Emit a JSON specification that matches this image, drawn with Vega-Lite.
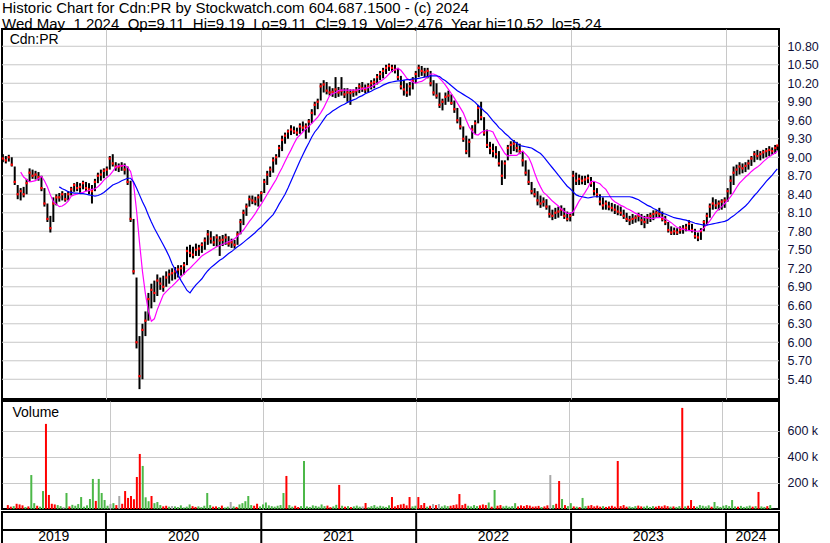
{
"$schema": "https://vega.github.io/schema/vega-lite/v6.json",
"background": "white",
"padding": {"left": 0, "top": 1, "right": 0, "bottom": 0},
"spacing": 0,
"title": {"text": ["Historic Chart for Cdn:PR by Stockwatch.com 604.687.1500 - (c) 2024", "Wed May\u00a0\u00a01 2024\u00a0\u00a0Op=9.11\u00a0\u00a0Hi=9.19\u00a0\u00a0Lo=9.11\u00a0\u00a0Cl=9.19\u00a0\u00a0Vol=2,476\u00a0\u00a0Year hi=10.52\u00a0\u00a0lo=5.24"], "anchor": "start", "font": "Liberation Sans", "fontSize": 15, "fontWeight": "normal", "color": "black", "lineHeight": 16, "offset": -4, "frame": "group"},
"config": {
  "view": {"stroke": "black", "strokeWidth": 2},
  "axis": {"labelFont": "Liberation Sans", "labelFontSize": 13, "labelColor": "#10103a", "gridColor": "#c8c8c8", "gridWidth": 1, "ticks": false, "domain": false, "labelOverlap": false}
},
"datasets": {
"p": [
{"d":"2019-05-03","h":9.05,"l":8.92,"c":8.98,"v":30000,"s":"d"},
{"d":"2019-05-10","h":9.02,"l":8.90,"c":8.95,"v":18000,"s":"d"},
{"d":"2019-05-17","h":9.04,"l":8.93,"c":9.00,"v":22000,"s":"u"},
{"d":"2019-05-24","h":9.00,"l":8.85,"c":8.88,"v":40000,"s":"d"},
{"d":"2019-05-31","h":8.85,"l":8.55,"c":8.60,"v":35000,"s":"d"},
{"d":"2019-06-07","h":8.55,"l":8.32,"c":8.40,"v":28000,"s":"d"},
{"d":"2019-06-14","h":8.50,"l":8.30,"c":8.45,"v":15000,"s":"u","m1":8.76},
{"d":"2019-06-21","h":8.52,"l":8.35,"c":8.40,"v":20000,"s":"d","m1":8.68},
{"d":"2019-06-28","h":8.65,"l":8.40,"c":8.58,"v":261000,"s":"u","m1":8.64},
{"d":"2019-07-05","h":8.82,"l":8.60,"c":8.75,"v":45000,"s":"u","m1":8.60},
{"d":"2019-07-12","h":8.80,"l":8.65,"c":8.70,"v":25000,"s":"d","m1":8.61},
{"d":"2019-07-19","h":8.78,"l":8.64,"c":8.72,"v":18000,"s":"u","m1":8.62},
{"d":"2019-07-26","h":8.76,"l":8.62,"c":8.68,"v":138000,"s":"u","m1":8.65},
{"d":"2019-08-02","h":8.70,"l":8.45,"c":8.50,"v":654000,"s":"d","m1":8.69},
{"d":"2019-08-09","h":8.50,"l":8.20,"c":8.25,"v":108000,"s":"d","m1":8.62},
{"d":"2019-08-16","h":8.25,"l":7.95,"c":8.00,"v":40000,"s":"d","m1":8.52},
{"d":"2019-08-23","h":8.05,"l":7.78,"c":7.85,"v":35000,"s":"d","m1":8.39},
{"d":"2019-08-30","h":8.35,"l":7.95,"c":8.25,"v":30000,"s":"u","m1":8.28},
{"d":"2019-09-06","h":8.40,"l":8.22,"c":8.35,"v":22000,"s":"u","m1":8.24},
{"d":"2019-09-13","h":8.42,"l":8.28,"c":8.35,"v":15000,"s":"n","m1":8.20,"m2":8.52},
{"d":"2019-09-20","h":8.45,"l":8.30,"c":8.40,"v":123000,"s":"u","m1":8.21,"m2":8.49},
{"d":"2019-09-27","h":8.42,"l":8.28,"c":8.32,"v":20000,"s":"d","m1":8.24,"m2":8.47},
{"d":"2019-10-04","h":8.45,"l":8.30,"c":8.40,"v":32000,"s":"u","m1":8.29,"m2":8.44},
{"d":"2019-10-11","h":8.52,"l":8.38,"c":8.48,"v":25000,"s":"u","m1":8.37,"m2":8.43},
{"d":"2019-10-18","h":8.58,"l":8.44,"c":8.55,"v":38000,"s":"u","m1":8.39,"m2":8.42},
{"d":"2019-10-25","h":8.60,"l":8.45,"c":8.50,"v":92000,"s":"u","m1":8.40,"m2":8.42},
{"d":"2019-11-01","h":8.58,"l":8.42,"c":8.52,"v":18000,"s":"u","m1":8.42,"m2":8.41},
{"d":"2019-11-08","h":8.62,"l":8.48,"c":8.58,"v":28000,"s":"u","m1":8.43,"m2":8.41},
{"d":"2019-11-15","h":8.60,"l":8.45,"c":8.50,"v":77000,"s":"u","m1":8.45,"m2":8.40},
{"d":"2019-11-22","h":8.58,"l":8.40,"c":8.48,"v":231000,"s":"u","m1":8.46,"m2":8.39},
{"d":"2019-11-29","h":8.55,"l":8.25,"c":8.45,"v":62000,"s":"d","m1":8.48,"m2":8.38},
{"d":"2019-12-06","h":8.65,"l":8.45,"c":8.60,"v":231000,"s":"u","m1":8.49,"m2":8.37},
{"d":"2019-12-13","h":8.75,"l":8.58,"c":8.70,"v":123000,"s":"u","m1":8.52,"m2":8.38},
{"d":"2019-12-20","h":8.80,"l":8.62,"c":8.72,"v":69000,"s":"u","m1":8.57,"m2":8.40},
{"d":"2019-12-27","h":8.82,"l":8.66,"c":8.78,"v":25000,"s":"u","m1":8.63,"m2":8.43},
{"d":"2020-01-03","h":8.85,"l":8.70,"c":8.80,"v":38000,"s":"n","m1":8.67,"m2":8.47},
{"d":"2020-01-10","h":9.02,"l":8.80,"c":8.98,"v":45000,"s":"u","m1":8.71,"m2":8.51},
{"d":"2020-01-17","h":9.05,"l":8.85,"c":8.90,"v":30000,"s":"d","m1":8.77,"m2":8.55},
{"d":"2020-01-24","h":8.92,"l":8.78,"c":8.85,"v":100000,"s":"n","m1":8.84,"m2":8.57},
{"d":"2020-01-31","h":8.90,"l":8.76,"c":8.84,"v":40000,"s":"d","m1":8.86,"m2":8.59},
{"d":"2020-02-07","h":8.92,"l":8.78,"c":8.86,"v":138000,"s":"d","m1":8.86,"m2":8.62},
{"d":"2020-02-14","h":8.90,"l":8.72,"c":8.80,"v":85000,"s":"d","m1":8.87,"m2":8.64},
{"d":"2020-02-21","h":8.85,"l":8.55,"c":8.60,"v":100000,"s":"d","m1":8.84,"m2":8.66},
{"d":"2020-02-28","h":8.62,"l":7.95,"c":8.00,"v":75000,"s":"d","m1":8.77,"m2":8.66},
{"d":"2020-03-06","h":8.00,"l":7.10,"c":7.15,"v":246000,"s":"d","m1":8.57,"m2":8.60},
{"d":"2020-03-13","h":7.05,"l":5.90,"c":6.00,"v":423000,"s":"d","m1":8.14,"m2":8.50},
{"d":"2020-03-20","h":6.10,"l":5.24,"c":5.45,"v":331000,"s":"u","m1":7.62,"m2":8.39},
{"d":"2020-03-27","h":6.30,"l":5.40,"c":6.20,"v":90000,"s":"u","m1":7.15,"m2":8.28},
{"d":"2020-04-03","h":6.50,"l":6.10,"c":6.35,"v":60000,"s":"u","m1":6.78,"m2":8.18},
{"d":"2020-04-10","h":6.80,"l":6.35,"c":6.70,"v":100000,"s":"d","m1":6.51,"m2":8.06},
{"d":"2020-04-17","h":6.95,"l":6.55,"c":6.85,"v":45000,"s":"u","m1":6.34,"m2":7.95},
{"d":"2020-04-24","h":7.00,"l":6.65,"c":6.80,"v":54000,"s":"u","m1":6.38,"m2":7.85},
{"d":"2020-05-01","h":7.10,"l":6.75,"c":7.00,"v":30000,"s":"u","m1":6.53,"m2":7.76},
{"d":"2020-05-08","h":7.05,"l":6.85,"c":6.95,"v":20000,"s":"d","m1":6.65,"m2":7.67},
{"d":"2020-05-15","h":7.08,"l":6.82,"c":6.90,"v":25000,"s":"d","m1":6.77,"m2":7.58},
{"d":"2020-05-22","h":7.15,"l":6.90,"c":7.05,"v":18000,"s":"u","m1":6.82,"m2":7.49},
{"d":"2020-05-29","h":7.18,"l":6.95,"c":7.10,"v":23000,"s":"n","m1":6.87,"m2":7.39},
{"d":"2020-06-05","h":7.20,"l":7.00,"c":7.12,"v":20000,"s":"u","m1":6.91,"m2":7.27},
{"d":"2020-06-12","h":7.22,"l":7.02,"c":7.15,"v":15000,"s":"u","m1":6.96,"m2":7.18},
{"d":"2020-06-19","h":7.25,"l":7.05,"c":7.18,"v":28000,"s":"u","m1":7.01,"m2":7.09},
{"d":"2020-06-26","h":7.25,"l":7.08,"c":7.20,"v":12000,"s":"u","m1":7.06,"m2":7.00},
{"d":"2020-07-03","h":7.30,"l":7.10,"c":7.25,"v":18000,"s":"u","m1":7.11,"m2":6.92},
{"d":"2020-07-10","h":7.55,"l":7.25,"c":7.48,"v":35000,"s":"u","m1":7.16,"m2":6.84},
{"d":"2020-07-17","h":7.58,"l":7.38,"c":7.45,"v":22000,"s":"d","m1":7.20,"m2":6.80},
{"d":"2020-07-24","h":7.55,"l":7.36,"c":7.42,"v":16000,"s":"d","m1":7.25,"m2":6.87},
{"d":"2020-07-31","h":7.60,"l":7.40,"c":7.50,"v":20000,"s":"u","m1":7.30,"m2":6.93},
{"d":"2020-08-07","h":7.58,"l":7.40,"c":7.52,"v":14000,"s":"u","m1":7.35,"m2":6.98},
{"d":"2020-08-14","h":7.62,"l":7.45,"c":7.58,"v":25000,"s":"u","m1":7.40,"m2":7.03},
{"d":"2020-08-21","h":7.70,"l":7.50,"c":7.65,"v":123000,"s":"u","m1":7.43,"m2":7.10},
{"d":"2020-08-28","h":7.82,"l":7.58,"c":7.75,"v":30000,"s":"u","m1":7.46,"m2":7.16},
{"d":"2020-09-04","h":7.80,"l":7.60,"c":7.68,"v":18000,"s":"d","m1":7.49,"m2":7.21},
{"d":"2020-09-11","h":7.72,"l":7.56,"c":7.62,"v":20000,"s":"d","m1":7.52,"m2":7.25},
{"d":"2020-09-18","h":7.75,"l":7.55,"c":7.70,"v":15000,"s":"u","m1":7.55,"m2":7.29},
{"d":"2020-09-25","h":7.72,"l":7.40,"c":7.65,"v":26000,"s":"d","m1":7.57,"m2":7.33},
{"d":"2020-10-02","h":7.74,"l":7.56,"c":7.66,"v":12000,"s":"u","m1":7.59,"m2":7.36},
{"d":"2020-10-09","h":7.76,"l":7.58,"c":7.70,"v":18000,"s":"u","m1":7.61,"m2":7.40},
{"d":"2020-10-16","h":7.72,"l":7.55,"c":7.60,"v":54000,"s":"n","m1":7.63,"m2":7.44},
{"d":"2020-10-23","h":7.68,"l":7.53,"c":7.62,"v":20000,"s":"u","m1":7.65,"m2":7.47},
{"d":"2020-10-30","h":7.66,"l":7.52,"c":7.58,"v":16000,"s":"d","m1":7.68,"m2":7.51},
{"d":"2020-11-06","h":7.80,"l":7.58,"c":7.75,"v":35000,"s":"u","m1":7.72,"m2":7.55},
{"d":"2020-11-13","h":8.00,"l":7.75,"c":7.95,"v":45000,"s":"u","m1":7.77,"m2":7.58},
{"d":"2020-11-20","h":8.15,"l":7.90,"c":8.10,"v":60000,"s":"u","m1":7.82,"m2":7.62},
{"d":"2020-11-27","h":8.25,"l":8.05,"c":8.20,"v":100000,"s":"u","m1":7.89,"m2":7.66},
{"d":"2020-12-04","h":8.38,"l":8.20,"c":8.32,"v":30000,"s":"u","m1":7.96,"m2":7.70},
{"d":"2020-12-11","h":8.38,"l":8.24,"c":8.30,"v":25000,"s":"d","m1":8.02,"m2":7.74},
{"d":"2020-12-18","h":8.36,"l":8.22,"c":8.28,"v":40000,"s":"d","m1":8.09,"m2":7.78},
{"d":"2020-12-25","h":8.40,"l":8.20,"c":8.35,"v":20000,"s":"u","m1":8.17,"m2":7.83},
{"d":"2021-01-01","h":8.45,"l":8.28,"c":8.42,"v":35000,"s":"u","m1":8.24,"m2":7.87},
{"d":"2021-01-08","h":8.65,"l":8.42,"c":8.60,"v":50000,"s":"u","m1":8.32,"m2":7.92},
{"d":"2021-01-15","h":8.78,"l":8.55,"c":8.72,"v":28000,"s":"u","m1":8.40,"m2":7.97},
{"d":"2021-01-22","h":8.85,"l":8.68,"c":8.80,"v":22000,"s":"u","m1":8.48,"m2":8.02},
{"d":"2021-01-29","h":9.00,"l":8.75,"c":8.95,"v":18000,"s":"u","m1":8.56,"m2":8.07},
{"d":"2021-02-05","h":9.05,"l":8.88,"c":9.00,"v":25000,"s":"u","m1":8.64,"m2":8.15},
{"d":"2021-02-12","h":9.20,"l":9.00,"c":9.15,"v":30000,"s":"u","m1":8.74,"m2":8.24},
{"d":"2021-02-19","h":9.35,"l":9.10,"c":9.28,"v":123000,"s":"u","m1":8.83,"m2":8.32},
{"d":"2021-02-26","h":9.40,"l":9.22,"c":9.35,"v":254000,"s":"d","m1":8.93,"m2":8.40},
{"d":"2021-03-05","h":9.45,"l":9.30,"c":9.42,"v":30000,"s":"u","m1":9.03,"m2":8.50},
{"d":"2021-03-12","h":9.52,"l":9.36,"c":9.45,"v":18000,"s":"u","m1":9.12,"m2":8.61},
{"d":"2021-03-19","h":9.50,"l":9.38,"c":9.42,"v":25000,"s":"d","m1":9.22,"m2":8.72},
{"d":"2021-03-26","h":9.48,"l":9.35,"c":9.40,"v":15000,"s":"d","m1":9.31,"m2":8.83},
{"d":"2021-04-02","h":9.55,"l":9.38,"c":9.50,"v":22000,"s":"u","m1":9.36,"m2":8.94},
{"d":"2021-04-09","h":9.58,"l":9.42,"c":9.48,"v":369000,"s":"u","m1":9.41,"m2":9.04},
{"d":"2021-04-16","h":9.55,"l":9.30,"c":9.50,"v":20000,"s":"u","m1":9.46,"m2":9.14},
{"d":"2021-04-23","h":9.62,"l":9.40,"c":9.58,"v":16000,"s":"u","m1":9.50,"m2":9.23},
{"d":"2021-04-30","h":9.78,"l":9.55,"c":9.72,"v":28000,"s":"u","m1":9.55,"m2":9.33},
{"d":"2021-05-07","h":9.90,"l":9.68,"c":9.85,"v":24000,"s":"u","m1":9.60,"m2":9.41},
{"d":"2021-05-14","h":9.95,"l":9.78,"c":9.90,"v":18000,"s":"u","m1":9.65,"m2":9.47},
{"d":"2021-05-21","h":10.20,"l":9.92,"c":10.15,"v":35000,"s":"u","m1":9.72,"m2":9.54},
{"d":"2021-05-28","h":10.25,"l":10.05,"c":10.18,"v":22000,"s":"u","m1":9.80,"m2":9.61},
{"d":"2021-06-04","h":10.22,"l":10.02,"c":10.08,"v":26000,"s":"d","m1":9.90,"m2":9.68},
{"d":"2021-06-11","h":10.15,"l":10.00,"c":10.05,"v":14000,"s":"d","m1":10.00,"m2":9.71},
{"d":"2021-06-18","h":10.12,"l":9.98,"c":10.06,"v":20000,"s":"u","m1":10.03,"m2":9.75},
{"d":"2021-06-25","h":10.30,"l":9.96,"c":10.10,"v":32000,"s":"u","m1":10.05,"m2":9.78},
{"d":"2021-07-02","h":10.14,"l":9.98,"c":10.05,"v":185000,"s":"d","m1":10.08,"m2":9.81},
{"d":"2021-07-09","h":10.30,"l":10.00,"c":10.08,"v":25000,"s":"u","m1":10.09,"m2":9.84},
{"d":"2021-07-16","h":10.12,"l":9.96,"c":10.02,"v":18000,"s":"d","m1":10.09,"m2":9.86},
{"d":"2021-07-23","h":10.12,"l":9.90,"c":10.05,"v":22000,"s":"u","m1":10.09,"m2":9.89},
{"d":"2021-07-30","h":10.10,"l":9.85,"c":10.04,"v":15000,"s":"d","m1":10.09,"m2":9.91},
{"d":"2021-08-06","h":10.10,"l":9.98,"c":10.06,"v":20000,"s":"u","m1":10.09,"m2":9.93},
{"d":"2021-08-13","h":10.14,"l":10.00,"c":10.08,"v":26000,"s":"u","m1":10.09,"m2":9.95},
{"d":"2021-08-20","h":10.20,"l":10.04,"c":10.15,"v":18000,"s":"u","m1":10.10,"m2":9.98},
{"d":"2021-08-27","h":10.22,"l":10.06,"c":10.12,"v":20000,"s":"n","m1":10.11,"m2":10.00},
{"d":"2021-09-03","h":10.18,"l":10.04,"c":10.10,"v":46000,"s":"d","m1":10.12,"m2":10.03},
{"d":"2021-09-10","h":10.20,"l":10.05,"c":10.15,"v":14000,"s":"u","m1":10.13,"m2":10.05},
{"d":"2021-09-17","h":10.25,"l":10.10,"c":10.20,"v":22000,"s":"u","m1":10.14,"m2":10.07},
{"d":"2021-09-24","h":10.28,"l":10.12,"c":10.22,"v":30000,"s":"u","m1":10.17,"m2":10.10},
{"d":"2021-10-01","h":10.35,"l":10.18,"c":10.30,"v":18000,"s":"u","m1":10.20,"m2":10.12},
{"d":"2021-10-08","h":10.40,"l":10.25,"c":10.35,"v":25000,"s":"u","m1":10.23,"m2":10.14},
{"d":"2021-10-15","h":10.45,"l":10.28,"c":10.40,"v":20000,"s":"u","m1":10.26,"m2":10.17},
{"d":"2021-10-22","h":10.50,"l":10.35,"c":10.45,"v":16000,"s":"u","m1":10.30,"m2":10.19},
{"d":"2021-10-29","h":10.52,"l":10.40,"c":10.48,"v":28000,"s":"u","m1":10.35,"m2":10.21},
{"d":"2021-11-05","h":10.50,"l":10.38,"c":10.45,"v":92000,"s":"d","m1":10.40,"m2":10.22},
{"d":"2021-11-12","h":10.50,"l":10.36,"c":10.42,"v":20000,"s":"d","m1":10.42,"m2":10.23},
{"d":"2021-11-19","h":10.45,"l":10.25,"c":10.30,"v":30000,"s":"d","m1":10.44,"m2":10.24},
{"d":"2021-11-26","h":10.32,"l":10.10,"c":10.15,"v":35000,"s":"d","m1":10.41,"m2":10.24},
{"d":"2021-12-03","h":10.25,"l":10.00,"c":10.10,"v":40000,"s":"d","m1":10.35,"m2":10.25},
{"d":"2021-12-10","h":10.20,"l":9.98,"c":10.05,"v":28000,"s":"d","m1":10.28,"m2":10.26},
{"d":"2021-12-17","h":10.22,"l":10.00,"c":10.15,"v":92000,"s":"d","m1":10.25,"m2":10.26},
{"d":"2021-12-24","h":10.30,"l":10.10,"c":10.25,"v":20000,"s":"u","m1":10.22,"m2":10.27},
{"d":"2021-12-31","h":10.40,"l":10.20,"c":10.35,"v":25000,"s":"u","m1":10.20,"m2":10.27},
{"d":"2022-01-07","h":10.50,"l":10.30,"c":10.45,"v":92000,"s":"d","m1":10.22,"m2":10.28},
{"d":"2022-01-14","h":10.48,"l":10.32,"c":10.40,"v":30000,"s":"d","m1":10.23,"m2":10.29},
{"d":"2022-01-21","h":10.45,"l":10.30,"c":10.38,"v":46000,"s":"d","m1":10.26,"m2":10.30},
{"d":"2022-01-28","h":10.45,"l":10.28,"c":10.40,"v":18000,"s":"u","m1":10.30,"m2":10.31},
{"d":"2022-02-04","h":10.40,"l":10.15,"c":10.20,"v":25000,"s":"d","m1":10.35,"m2":10.32},
{"d":"2022-02-11","h":10.25,"l":10.00,"c":10.05,"v":38000,"s":"n","m1":10.35,"m2":10.32},
{"d":"2022-02-18","h":10.20,"l":9.95,"c":10.00,"v":30000,"s":"d","m1":10.33,"m2":10.32},
{"d":"2022-02-25","h":10.05,"l":9.80,"c":9.85,"v":38000,"s":"n","m1":10.28,"m2":10.31},
{"d":"2022-03-04","h":9.95,"l":9.76,"c":9.90,"v":20000,"s":"u","m1":10.23,"m2":10.27},
{"d":"2022-03-11","h":10.05,"l":9.85,"c":9.98,"v":28000,"s":"u","m1":10.17,"m2":10.24},
{"d":"2022-03-18","h":10.08,"l":9.90,"c":10.00,"v":22000,"s":"u","m1":10.10,"m2":10.20},
{"d":"2022-03-25","h":10.02,"l":9.85,"c":9.88,"v":25000,"s":"d","m1":10.03,"m2":10.16},
{"d":"2022-04-01","h":9.92,"l":9.72,"c":9.78,"v":30000,"s":"d","m1":9.96,"m2":10.12},
{"d":"2022-04-08","h":9.80,"l":9.55,"c":9.60,"v":35000,"s":"d","m1":9.88,"m2":10.08},
{"d":"2022-04-15","h":9.65,"l":9.45,"c":9.50,"v":115000,"s":"d","m1":9.80,"m2":10.05},
{"d":"2022-04-22","h":9.50,"l":9.25,"c":9.30,"v":30000,"s":"d","m1":9.72,"m2":10.02},
{"d":"2022-04-29","h":9.35,"l":9.05,"c":9.10,"v":40000,"s":"d","m1":9.60,"m2":9.99},
{"d":"2022-05-06","h":9.30,"l":9.00,"c":9.25,"v":25000,"s":"u","m1":9.49,"m2":9.96},
{"d":"2022-05-13","h":9.52,"l":9.30,"c":9.45,"v":20000,"s":"u","m1":9.42,"m2":9.93},
{"d":"2022-05-20","h":9.60,"l":9.38,"c":9.55,"v":30000,"s":"u","m1":9.37,"m2":9.89},
{"d":"2022-05-27","h":9.85,"l":9.55,"c":9.80,"v":22000,"s":"u","m1":9.36,"m2":9.84},
{"d":"2022-06-03","h":9.90,"l":9.60,"c":9.65,"v":28000,"s":"d","m1":9.40,"m2":9.80},
{"d":"2022-06-10","h":9.65,"l":9.35,"c":9.40,"v":35000,"s":"d","m1":9.43,"m2":9.75},
{"d":"2022-06-17","h":9.45,"l":9.15,"c":9.20,"v":30000,"s":"d","m1":9.43,"m2":9.71},
{"d":"2022-06-24","h":9.25,"l":9.05,"c":9.15,"v":50000,"s":"u","m1":9.43,"m2":9.65},
{"d":"2022-07-01","h":9.22,"l":9.00,"c":9.10,"v":18000,"s":"d","m1":9.41,"m2":9.59},
{"d":"2022-07-08","h":9.18,"l":8.98,"c":9.05,"v":146000,"s":"u","m1":9.31,"m2":9.54},
{"d":"2022-07-15","h":9.10,"l":8.85,"c":8.90,"v":25000,"s":"d","m1":9.22,"m2":9.48},
{"d":"2022-07-22","h":8.95,"l":8.55,"c":8.70,"v":30000,"s":"d","m1":9.14,"m2":9.44},
{"d":"2022-07-29","h":8.95,"l":8.65,"c":8.90,"v":20000,"s":"u","m1":9.06,"m2":9.39},
{"d":"2022-08-05","h":9.20,"l":8.95,"c":9.15,"v":25000,"s":"u","m1":9.02,"m2":9.35},
{"d":"2022-08-12","h":9.26,"l":9.05,"c":9.20,"v":18000,"s":"u","m1":9.03,"m2":9.30},
{"d":"2022-08-19","h":9.28,"l":9.10,"c":9.22,"v":22000,"s":"u","m1":9.03,"m2":9.26},
{"d":"2022-08-26","h":9.25,"l":9.08,"c":9.15,"v":45000,"s":"u","m1":9.03,"m2":9.23},
{"d":"2022-09-02","h":9.22,"l":9.05,"c":9.10,"v":20000,"s":"d","m1":9.07,"m2":9.19},
{"d":"2022-09-09","h":9.10,"l":8.85,"c":8.95,"v":28000,"s":"d","m1":9.10,"m2":9.18},
{"d":"2022-09-16","h":8.95,"l":8.70,"c":8.75,"v":22000,"s":"d","m1":9.05,"m2":9.17},
{"d":"2022-09-23","h":8.80,"l":8.55,"c":8.60,"v":30000,"s":"d","m1":9.00,"m2":9.16},
{"d":"2022-09-30","h":8.60,"l":8.40,"c":8.45,"v":26000,"s":"d","m1":8.89,"m2":9.15},
{"d":"2022-10-07","h":8.50,"l":8.35,"c":8.40,"v":18000,"s":"d","m1":8.75,"m2":9.12},
{"d":"2022-10-14","h":8.45,"l":8.22,"c":8.30,"v":20000,"s":"d","m1":8.62,"m2":9.09},
{"d":"2022-10-21","h":8.38,"l":8.18,"c":8.25,"v":24000,"s":"d","m1":8.52,"m2":9.06},
{"d":"2022-10-28","h":8.35,"l":8.20,"c":8.28,"v":15000,"s":"u","m1":8.43,"m2":9.01},
{"d":"2022-11-04","h":8.32,"l":8.15,"c":8.20,"v":20000,"s":"d","m1":8.39,"m2":8.95},
{"d":"2022-11-11","h":8.22,"l":8.02,"c":8.08,"v":28000,"s":"d","m1":8.34,"m2":8.89},
{"d":"2022-11-18","h":8.15,"l":7.98,"c":8.05,"v":261000,"s":"n","m1":8.29,"m2":8.83},
{"d":"2022-11-25","h":8.18,"l":8.00,"c":8.10,"v":30000,"s":"u","m1":8.25,"m2":8.77},
{"d":"2022-12-02","h":8.20,"l":8.02,"c":8.12,"v":40000,"s":"d","m1":8.21,"m2":8.71},
{"d":"2022-12-09","h":8.22,"l":8.05,"c":8.15,"v":215000,"s":"d","m1":8.16,"m2":8.65},
{"d":"2022-12-16","h":8.18,"l":8.00,"c":8.05,"v":77000,"s":"u","m1":8.12,"m2":8.59},
{"d":"2022-12-23","h":8.12,"l":7.96,"c":8.00,"v":30000,"s":"d","m1":8.09,"m2":8.53},
{"d":"2022-12-30","h":8.10,"l":7.96,"c":8.05,"v":22000,"s":"u","m1":8.09,"m2":8.49},
{"d":"2023-01-06","h":8.78,"l":8.05,"c":8.70,"v":45000,"s":"u","m1":8.11,"m2":8.44},
{"d":"2023-01-13","h":8.75,"l":8.55,"c":8.62,"v":20000,"s":"d","m1":8.20,"m2":8.39},
{"d":"2023-01-20","h":8.72,"l":8.55,"c":8.65,"v":18000,"s":"u","m1":8.29,"m2":8.37},
{"d":"2023-01-27","h":8.70,"l":8.56,"c":8.62,"v":15000,"s":"d","m1":8.36,"m2":8.36},
{"d":"2023-02-03","h":8.70,"l":8.55,"c":8.64,"v":85000,"s":"u","m1":8.43,"m2":8.35},
{"d":"2023-02-10","h":8.72,"l":8.58,"c":8.66,"v":22000,"s":"u","m1":8.51,"m2":8.34},
{"d":"2023-02-17","h":8.68,"l":8.52,"c":8.58,"v":25000,"s":"d","m1":8.61,"m2":8.35},
{"d":"2023-02-24","h":8.60,"l":8.38,"c":8.45,"v":30000,"s":"d","m1":8.61,"m2":8.36},
{"d":"2023-03-03","h":8.50,"l":8.35,"c":8.40,"v":20000,"s":"d","m1":8.59,"m2":8.36},
{"d":"2023-03-10","h":8.40,"l":8.22,"c":8.28,"v":26000,"s":"d","m1":8.57,"m2":8.36},
{"d":"2023-03-17","h":8.35,"l":8.15,"c":8.22,"v":18000,"s":"d","m1":8.52,"m2":8.36},
{"d":"2023-03-24","h":8.30,"l":8.15,"c":8.25,"v":22000,"s":"u","m1":8.48,"m2":8.36},
{"d":"2023-03-31","h":8.28,"l":8.14,"c":8.20,"v":16000,"s":"d","m1":8.40,"m2":8.36},
{"d":"2023-04-07","h":8.26,"l":8.12,"c":8.18,"v":20000,"s":"d","m1":8.32,"m2":8.36},
{"d":"2023-04-14","h":8.24,"l":8.08,"c":8.15,"v":25000,"s":"d","m1":8.28,"m2":8.36},
{"d":"2023-04-21","h":8.22,"l":8.06,"c":8.12,"v":18000,"s":"d","m1":8.25,"m2":8.36},
{"d":"2023-04-28","h":8.20,"l":8.05,"c":8.10,"v":369000,"s":"d","m1":8.22,"m2":8.36},
{"d":"2023-05-05","h":8.15,"l":8.00,"c":8.05,"v":22000,"s":"d","m1":8.20,"m2":8.36},
{"d":"2023-05-12","h":8.10,"l":7.95,"c":8.00,"v":30000,"s":"d","m1":8.17,"m2":8.36},
{"d":"2023-05-19","h":8.05,"l":7.90,"c":7.98,"v":18000,"s":"d","m1":8.15,"m2":8.36},
{"d":"2023-05-26","h":8.08,"l":7.92,"c":8.00,"v":20000,"s":"u","m1":8.12,"m2":8.35},
{"d":"2023-06-02","h":8.06,"l":7.94,"c":8.02,"v":15000,"s":"u","m1":8.09,"m2":8.33},
{"d":"2023-06-09","h":8.10,"l":7.96,"c":8.05,"v":22000,"s":"u","m1":8.07,"m2":8.31},
{"d":"2023-06-16","h":8.08,"l":7.90,"c":7.98,"v":26000,"s":"d","m1":8.04,"m2":8.28},
{"d":"2023-06-23","h":8.05,"l":7.85,"c":7.95,"v":20000,"s":"d","m1":8.02,"m2":8.25},
{"d":"2023-06-30","h":8.08,"l":7.92,"c":8.02,"v":18000,"s":"u","m1":8.02,"m2":8.22},
{"d":"2023-07-07","h":8.10,"l":7.95,"c":8.05,"v":25000,"s":"u","m1":8.01,"m2":8.20},
{"d":"2023-07-14","h":8.14,"l":7.98,"c":8.08,"v":16000,"s":"u","m1":8.01,"m2":8.17},
{"d":"2023-07-21","h":8.14,"l":8.02,"c":8.10,"v":22000,"s":"u","m1":8.02,"m2":8.15},
{"d":"2023-07-28","h":8.18,"l":8.02,"c":8.08,"v":18000,"s":"d","m1":8.02,"m2":8.12},
{"d":"2023-08-04","h":8.12,"l":7.96,"c":8.00,"v":24000,"s":"d","m1":8.03,"m2":8.09},
{"d":"2023-08-11","h":8.05,"l":7.90,"c":7.95,"v":20000,"s":"d","m1":8.00,"m2":8.08},
{"d":"2023-08-18","h":7.95,"l":7.78,"c":7.82,"v":28000,"s":"d","m1":7.97,"m2":8.06},
{"d":"2023-08-25","h":7.88,"l":7.74,"c":7.78,"v":22000,"s":"d","m1":7.94,"m2":8.04},
{"d":"2023-09-01","h":7.86,"l":7.74,"c":7.80,"v":18000,"s":"u","m1":7.90,"m2":8.02},
{"d":"2023-09-08","h":7.85,"l":7.74,"c":7.78,"v":20000,"s":"d","m1":7.86,"m2":8.01},
{"d":"2023-09-15","h":7.88,"l":7.76,"c":7.82,"v":16000,"s":"u","m1":7.85,"m2":8.00},
{"d":"2023-09-22","h":7.90,"l":7.76,"c":7.84,"v":22000,"s":"u","m1":7.83,"m2":7.99},
{"d":"2023-09-29","h":7.92,"l":7.80,"c":7.86,"v":777000,"s":"d","m1":7.82,"m2":7.98},
{"d":"2023-10-06","h":7.98,"l":7.82,"c":7.92,"v":20000,"s":"u","m1":7.81,"m2":7.96},
{"d":"2023-10-13","h":7.92,"l":7.78,"c":7.82,"v":25000,"s":"d","m1":7.81,"m2":7.95},
{"d":"2023-10-20","h":7.84,"l":7.68,"c":7.72,"v":69000,"s":"d","m1":7.80,"m2":7.93},
{"d":"2023-10-27","h":7.78,"l":7.64,"c":7.70,"v":22000,"s":"d","m1":7.80,"m2":7.92},
{"d":"2023-11-03","h":7.85,"l":7.66,"c":7.80,"v":18000,"s":"u","m1":7.81,"m2":7.91},
{"d":"2023-11-10","h":7.98,"l":7.80,"c":7.95,"v":30000,"s":"u","m1":7.85,"m2":7.90},
{"d":"2023-11-17","h":8.10,"l":7.90,"c":8.05,"v":25000,"s":"u","m1":7.91,"m2":7.90},
{"d":"2023-11-24","h":8.25,"l":8.02,"c":8.20,"v":20000,"s":"u","m1":7.97,"m2":7.91},
{"d":"2023-12-01","h":8.35,"l":8.15,"c":8.25,"v":28000,"s":"u","m1":8.04,"m2":7.92},
{"d":"2023-12-08","h":8.32,"l":8.16,"c":8.22,"v":18000,"s":"d","m1":8.11,"m2":7.93},
{"d":"2023-12-15","h":8.30,"l":8.14,"c":8.25,"v":54000,"s":"u","m1":8.16,"m2":7.94},
{"d":"2023-12-22","h":8.32,"l":8.15,"c":8.28,"v":22000,"s":"u","m1":8.20,"m2":7.95},
{"d":"2023-12-29","h":8.35,"l":8.18,"c":8.30,"v":16000,"s":"u","m1":8.25,"m2":7.96},
{"d":"2024-01-05","h":8.50,"l":8.28,"c":8.45,"v":25000,"s":"u","m1":8.30,"m2":7.98},
{"d":"2024-01-12","h":8.70,"l":8.40,"c":8.62,"v":30000,"s":"u","m1":8.36,"m2":8.02},
{"d":"2024-01-19","h":8.85,"l":8.55,"c":8.75,"v":22000,"s":"u","m1":8.43,"m2":8.05},
{"d":"2024-01-26","h":8.88,"l":8.70,"c":8.80,"v":69000,"s":"u","m1":8.51,"m2":8.09},
{"d":"2024-02-02","h":8.92,"l":8.72,"c":8.85,"v":20000,"s":"u","m1":8.58,"m2":8.13},
{"d":"2024-02-09","h":8.90,"l":8.74,"c":8.82,"v":18000,"s":"d","m1":8.63,"m2":8.17},
{"d":"2024-02-16","h":8.92,"l":8.76,"c":8.86,"v":24000,"s":"u","m1":8.68,"m2":8.21},
{"d":"2024-02-23","h":8.96,"l":8.80,"c":8.90,"v":16000,"s":"u","m1":8.72,"m2":8.26},
{"d":"2024-03-01","h":9.02,"l":8.86,"c":8.98,"v":20000,"s":"u","m1":8.77,"m2":8.32},
{"d":"2024-03-08","h":9.10,"l":8.92,"c":9.05,"v":26000,"s":"u","m1":8.81,"m2":8.38},
{"d":"2024-03-15","h":9.12,"l":8.96,"c":9.02,"v":18000,"s":"d","m1":8.84,"m2":8.43},
{"d":"2024-03-22","h":9.10,"l":8.95,"c":9.05,"v":22000,"s":"u","m1":8.88,"m2":8.49},
{"d":"2024-03-29","h":9.12,"l":8.98,"c":9.08,"v":131000,"s":"d","m1":8.93,"m2":8.55},
{"d":"2024-04-05","h":9.15,"l":9.00,"c":9.10,"v":20000,"s":"u","m1":8.97,"m2":8.61},
{"d":"2024-04-12","h":9.18,"l":9.02,"c":9.12,"v":16000,"s":"u","m1":9.01,"m2":8.66},
{"d":"2024-04-19","h":9.16,"l":9.04,"c":9.10,"v":22000,"s":"d","m1":9.04,"m2":8.71},
{"d":"2024-04-26","h":9.20,"l":9.06,"c":9.15,"v":30000,"s":"u","m1":9.07,"m2":8.77},
{"d":"2024-05-01","h":9.19,"l":9.11,"c":9.19,"v":2476,"s":"u","m1":9.10,"m2":8.81}
],
"yb": [{"b":"2020-01-01"},{"b":"2021-01-01"},{"b":"2022-01-01"},{"b":"2023-01-01"},{"b":"2024-01-01"}],
"yl": [{"d":"2019-08-31","yr":"2019"},{"d":"2020-07-02","yr":"2020"},{"d":"2021-07-02","yr":"2021"},{"d":"2022-07-02","yr":"2022"},{"d":"2023-07-02","yr":"2023"},{"d":"2024-02-29","yr":"2024"}],
"yt": [{"y":5.4},{"y":5.7},{"y":6.0},{"y":6.3},{"y":6.6},{"y":6.9},{"y":7.2},{"y":7.5},{"y":7.8},{"y":8.1},{"y":8.4},{"y":8.7},{"y":9.0},{"y":9.3},{"y":9.6},{"y":9.9},{"y":10.2},{"y":10.5},{"y":10.8}]
},
"vconcat": [
{
  "width": 777, "height": 370,
  "resolve": {"axis": {"y": "independent"}},
  "encoding": {"x": {"field": "d", "type": "temporal", "scale": {"domain": ["2019-05-01", "2024-05-05"]}, "axis": {"values": ["2020-01-01","2021-01-01","2022-01-01","2023-01-01","2024-01-01"], "grid": true, "labels": false, "title": null}}},
  "layer": [
    {"data": {"name": "yt"}, "mark": {"type": "rule", "color": "#c8c8c8", "strokeWidth": 1},
     "encoding": {"x": null, "y": {"field": "y", "type": "quantitative", "title": null, "scale": {"domain": [5.08, 11.08], "nice": false, "zero": false}, "axis": {"orient": "right", "values": [5.4,5.7,6.0,6.3,6.6,6.9,7.2,7.5,7.8,8.1,8.4,8.7,9.0,9.3,9.6,9.9,10.2,10.5,10.8], "format": ".2f", "grid": false, "labelPadding": 8, "labelAlign": "left", "labelOverlap": false, "labelBound": false, "labelFontSize": 12.5, "title": null}}}},
    {"data": {"name": "p"}, "mark": {"type": "rule", "color": "black", "strokeWidth": 2},
     "encoding": {"y": {"field": "l", "type": "quantitative", "title": null, "axis": null}, "y2": {"field": "h"}}},
    {"data": {"name": "p"}, "mark": {"type": "point", "shape": "square", "filled": true, "size": 5, "color": "#ff0000", "opacity": 1},
     "encoding": {"y": {"field": "c", "type": "quantitative", "title": null, "axis": null}}},
    {"data": {"name": "p"}, "mark": {"type": "line", "color": "#ff00ff", "strokeWidth": 1.2},
     "encoding": {"y": {"field": "m1", "type": "quantitative", "title": null, "axis": null}}},
    {"data": {"name": "p"}, "mark": {"type": "line", "color": "#0000ff", "strokeWidth": 1.2},
     "encoding": {"y": {"field": "m2", "type": "quantitative", "title": null, "axis": null}}},
    {"data": {"values": [{"t": "Cdn:PR", "td": "2019-05-19", "tv": 10.9}]}, "mark": {"type": "text", "align": "left", "baseline": "middle", "font": "Liberation Sans", "fontSize": 14, "color": "black"},
     "encoding": {"x": {"field": "td", "type": "temporal"}, "y": {"field": "tv", "type": "quantitative", "axis": null}, "text": {"field": "t"}}}
  ]
},
{
  "width": 777, "height": 108,
  "resolve": {"axis": {"y": "independent"}},
  "encoding": {"x": {"field": "d", "type": "temporal", "scale": {"domain": ["2019-05-01", "2024-05-05"]}, "axis": {"values": ["2020-01-01","2021-01-01","2022-01-01","2023-01-01","2024-01-01"], "grid": true, "labels": false, "title": null}}},
  "layer": [
    {"data": {"name": "p"}, "mark": {"type": "bar", "width": 2},
     "encoding": {"y": {"field": "v", "type": "quantitative", "title": null, "scale": {"domain": [0, 830000], "nice": false}, "axis": {"orient": "right", "values": [200000, 400000, 600000], "labelExpr": "(datum.value/1000) + ' k'", "grid": true, "labelPadding": 8, "labelAlign": "left", "labelOverlap": false, "labelBound": false, "labelFontSize": 12.5, "title": null}},
       "color": {"field": "s", "type": "nominal", "scale": {"domain": ["u", "d", "n"], "range": ["#4cb848", "#ff0000", "#a8a8a8"]}, "legend": null}}},
    {"data": {"values": [{"t": "Volume", "td": "2019-05-14", "tv": 740000}]}, "mark": {"type": "text", "align": "left", "baseline": "middle", "font": "Liberation Sans", "fontSize": 14, "color": "black"},
     "encoding": {"x": {"field": "td", "type": "temporal"}, "y": {"field": "tv", "type": "quantitative", "axis": null}, "text": {"field": "t"}}}
  ]
},
{
  "width": 777, "height": 32,
  "layer": [
    {"data": {"name": "yb"}, "mark": {"type": "rule", "color": "black", "strokeWidth": 2},
     "encoding": {"x": {"field": "b", "type": "temporal", "scale": {"domain": ["2019-05-01", "2024-05-05"]}, "axis": null}}},
    {"data": {"values": [{"k": 0.44}]}, "mark": {"type": "rule", "color": "black", "strokeWidth": 2},
     "encoding": {"y": {"field": "k", "type": "quantitative", "scale": {"domain": [0, 1], "nice": false}, "axis": null}}},
    {"data": {"name": "yl"}, "mark": {"type": "text", "baseline": "middle", "align": "center", "font": "Liberation Sans", "fontSize": 14, "color": "black"},
     "encoding": {"x": {"field": "d", "type": "temporal"}, "y": {"datum": 0.21, "type": "quantitative"}, "text": {"field": "yr"}}}
  ]
}
]
}
